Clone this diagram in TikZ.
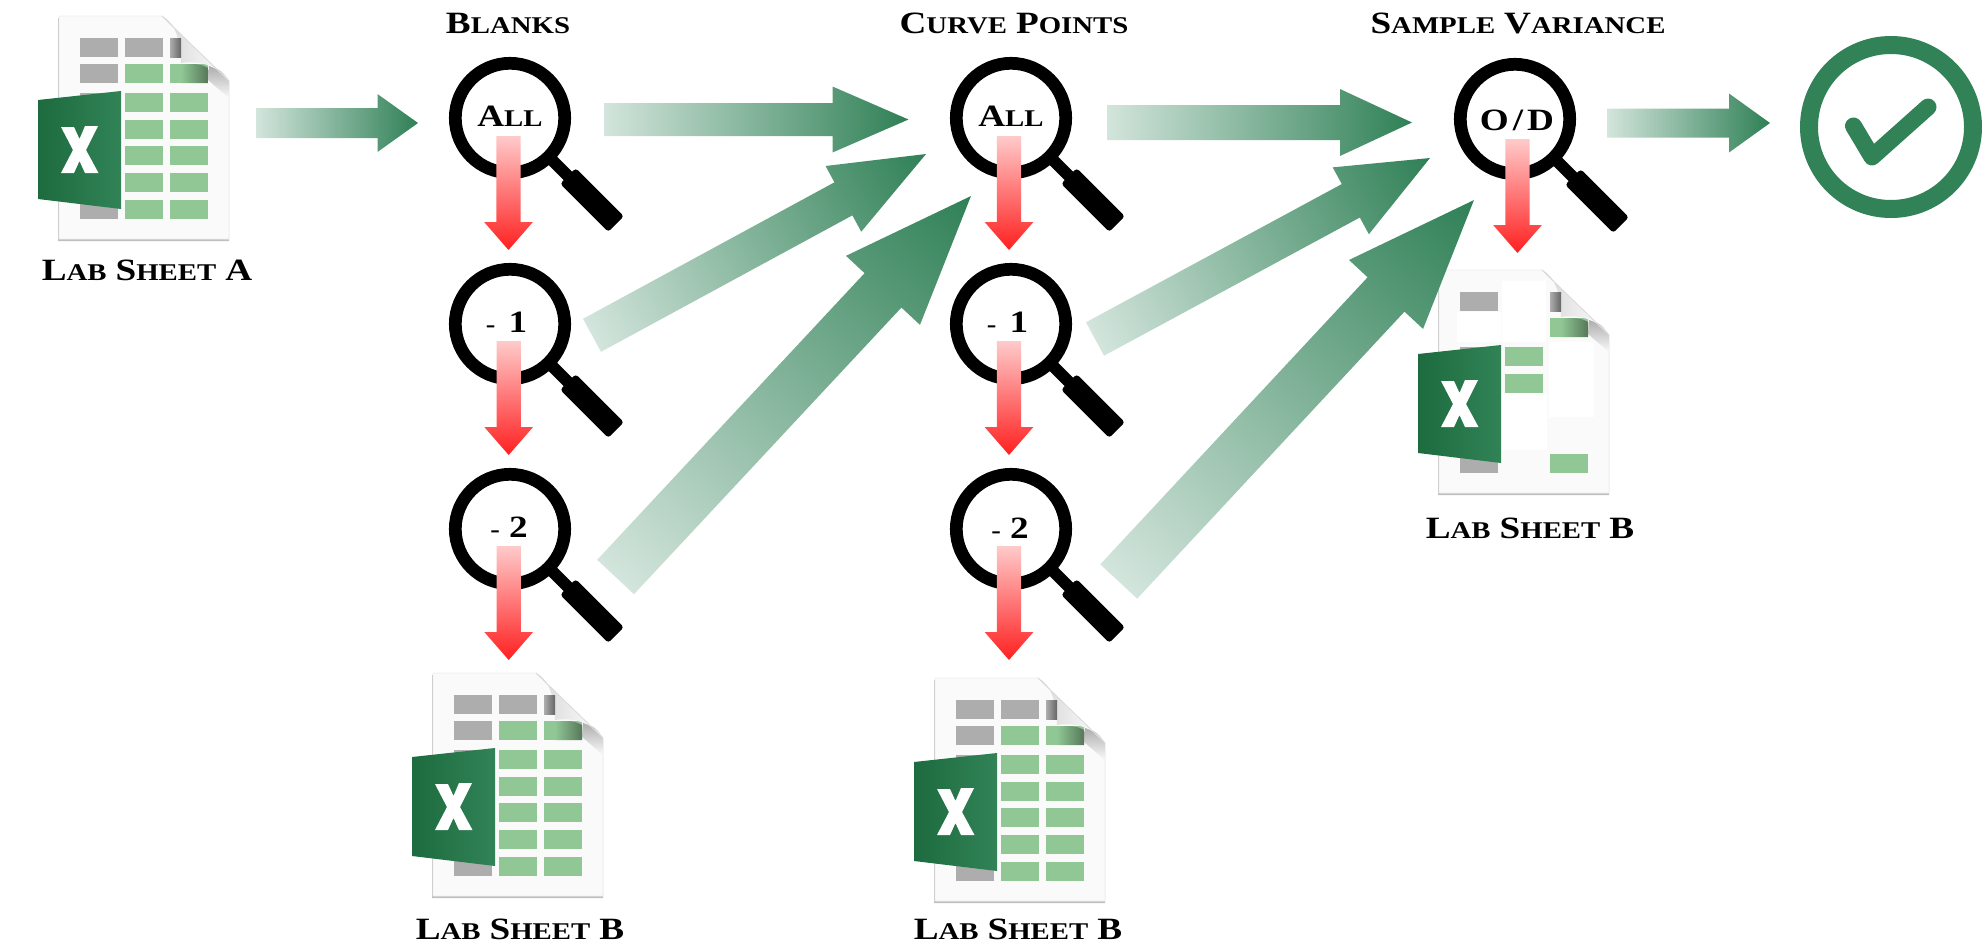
\documentclass[tikz,border=0pt]{standalone}
\usepackage{fontspec}
\usetikzlibrary{calc}
\newfontfamily\cop[FakeStretch=1.2]{Liberation Serif}
\newcommand\capL[1]{{\fontsize{31}{31}\selectfont #1}}
\newcommand\capS[1]{{\fontsize{24}{24}\selectfont #1}}
\newcommand\wsp{\hspace{9pt}}
\definecolor{gL}{HTML}{D3E5DC}
\definecolor{gM}{HTML}{A6C3B3}
\definecolor{gR}{HTML}{2F8056}
\definecolor{tileG}{HTML}{90C795}
\definecolor{tileK}{HTML}{ADADAD}
\definecolor{okG}{HTML}{318357}
\definecolor{panelL}{HTML}{1D6B3E}
\definecolor{redT}{HTML}{FFCACA}
\definecolor{redM}{HTML}{FFA4A4}
\definecolor{redB}{HTML}{FF2020}
\tikzset{
  gflow/.style={left color=gL,middle color=gM,right color=gR},
  rflow/.style={left color=redT,middle color=redM,right color=redB},
  lbl/.style={font=\cop\bfseries,inner sep=0pt,anchor=base,text=black},
  tileg/.style={fill=tileG},
  tilek/.style={fill=tileK},
  patch/.style={fill=white},
}
% arrow in canvas frame, gradient along its own axis
\newcommand\flow[6]{%
  \pgfpointanchor{#2}{center}\pgfgetlastxy\ax\ay
  \pgfpointanchor{#3}{center}\pgfgetlastxy\bx\by
  \pgfmathsetmacro\ang{atan2(\by-\ay,\bx-\ax)}%
  \pgfmathsetmacro\len{veclen(\bx-\ax,\by-\ay)}%
  \pgfmathsetmacro\neck{\len-#6}%
  \begin{scope}[transform canvas={shift={(\ax,\ay)},rotate=\ang}]
    \shade[#1] (0pt,-#4pt) -- (\neck pt,-#4pt) -- (\neck pt,-#5pt) -- (\len pt,0pt)
      -- (\neck pt,#5pt) -- (\neck pt,#4pt) -- (0pt,#4pt) -- cycle;
  \end{scope}%
}
\newcommand\iconback[1]{%
  \fill[black!25] ($(#1)+(-0.8,2)$) -- ++(104,0) -- ++(67,65) -- ++(0,158) -- ++(-171,0) -- cycle;
  \fill[black!2,draw=black!7,line width=0.8pt] (#1) -- ++(103,0) -- ++(67,65) -- ++(0,158) -- ++(-170,0) -- cycle;
}
\newcommand\iconfront[1]{%
  \begin{scope}[shift={(#1)}]
    \shade[top color=black!32,bottom color=black!2] (150,50) .. controls (160,52) and (166,58) .. (170,65) -- (170,82) -- (149,64) -- cycle;
    \shade[left color=black!16,right color=white] (103,0) .. controls (116,6) and (122,25) .. (122,47)
      .. controls (140,44) and (160,50) .. (170,65) -- cycle;
    \draw[black!14,line width=0.8pt] (103,0) -- (170,65);
    \shade[left color=tileG,right color=tileG!60!black] (122,49) .. controls (135,47) and (142,48) .. (149,52) -- (149,67) -- (122,67) -- cycle;
    \shade[left color=tileK,right color=black!60] (111,22) rectangle (122,41);
    \shade[left color=panelL,right color=okG] (-21,84) -- (62,75) -- (62,193) -- (-21,183) -- cycle;
    \fill[white] (2,111) -- (15,111) -- (20.5,123) -- (26,110) -- (39,110) -- (27,134) -- (39.5,157)
      -- (26,157) -- (20.5,145) -- (15,157) -- (2,157) -- (14,134) -- cycle;
  \end{scope}%
}
\newcommand\tile[4]{\fill[#1] ($(#2)+(#3)$) rectangle ++(#4);}
\newcommand\fullicon[1]{%
  \iconback{#1}
  \tile{tilek}{#1}{21,22}{38,19}
  \tile{tilek}{#1}{66,22}{38,19}
  \tile{tilek}{#1}{111,22}{11,19}
  \tile{tilek}{#1}{21,48}{38,19}
  \tile{tileg}{#1}{66,48}{38,19}
  \tile{tileg}{#1}{111,48}{38,19}
  \tile{tilek}{#1}{21,77}{38,19}
  \foreach \ry in {77,104,130,157,184}{%
    \tile{tileg}{#1}{66,\ry}{38,19}
    \tile{tileg}{#1}{111,\ry}{38,19}}
  \tile{tilek}{#1}{21,184}{38,19}
  \iconfront{#1}
}
\newcommand\particon[1]{%
  \iconback{#1}
  \tile{patch}{#1}{18,42}{44,30}
  \tile{patch}{#1}{63,11}{44,61}
  \tile{patch}{#1}{110,72}{45,75}
  \tile{patch}{#1}{63,123}{45,57}
  \tile{tilek}{#1}{21,22}{38,19}
  \tile{tilek}{#1}{111,22}{11,19}
  \tile{tileg}{#1}{111,48}{38,19}
  \tile{tilek}{#1}{21,77}{38,19}
  \tile{tileg}{#1}{66,77}{38,19}
  \tile{tileg}{#1}{66,104}{38,19}
  \tile{tilek}{#1}{21,184}{38,19}
  \tile{tileg}{#1}{111,184}{38,19}
  \iconfront{#1}
}
\newcommand\lens[1]{%
  \draw[line width=12.7pt] (#1) circle[radius=54.7];
  \begin{scope}[shift={(#1)},rotate=-45]
    \fill (54,-6) rectangle (85,6);
    \fill[rounded corners=3pt] (82,-11) rectangle (150,11);
  \end{scope}%
}
\begin{document}
\begin{tikzpicture}[x=1pt,y=-1pt]
\useasboundingbox (0,0) rectangle (1982,948);
% icon anchors
\coordinate (iconA) at (59,16);
\coordinate (iconB1) at (433,673);
\coordinate (iconB2) at (935,678);
\coordinate (iconB3) at (1439,270);
\fullicon{iconA}
\fullicon{iconB1}
\fullicon{iconB2}
\particon{iconB3}
% lens anchors
\coordinate (L11) at (510,118);
\coordinate (L12) at (510,324);
\coordinate (L13) at (510,529);
\coordinate (L21) at (1011,118);
\coordinate (L22) at (1011,324);
\coordinate (L23) at (1011,529);
\coordinate (L31) at (1515,119);
\foreach \c in {L11,L12,L13,L21,L22,L23,L31}{\lens{\c}}
% titles
\node[lbl] (tA) at (147,280) {\capL{L}\capS{AB}\wsp\capL{S}\capS{HEET}\wsp\capL{A}};
\node[lbl] (tB) at (508,33) {\capL{B}\capS{LANKS}};
\node[lbl] (tC) at (1014,33) {\capL{C}\capS{URVE}\wsp\capL{P}\capS{OINTS}};
\node[lbl] (tS) at (1518,33) {\capL{S}\capS{AMPLE}\wsp\capL{V}\capS{ARIANCE}};
\node[lbl] (tB1) at (520,939) {\capL{L}\capS{AB}\wsp\capL{S}\capS{HEET}\wsp\capL{B}};
\node[lbl] (tB2) at (1018,939) {\capL{L}\capS{AB}\wsp\capL{S}\capS{HEET}\wsp\capL{B}};
\node[lbl] (tB3) at (1530,538) {\capL{L}\capS{AB}\wsp\capL{S}\capS{HEET}\wsp\capL{B}};
% lens texts
\node[lbl] (n11) at (510,126) {\capL{A}\capS{LL}};
\node[lbl] (n12) at (506.5,332) {\capS{-}\hspace{13pt}\capL{1}};
\node[lbl] (n13) at (509,537) {\capS{-}\hspace{9pt}\capL{2}};
\node[lbl] (n21) at (1011,126) {\capL{A}\capS{LL}};
\node[lbl] (n22) at (1007.5,332) {\capS{-}\hspace{13pt}\capL{1}};
\node[lbl] (n23) at (1010,538) {\capS{-}\hspace{9pt}\capL{2}};
\node[lbl] (n31) at (1517,130) {\capL{O\hspace{4pt}/\hspace{4pt}D}};
% check
\coordinate (ok) at (1891,127);
\draw[okG,line width=18pt] (ok) circle[radius=82];
\coordinate (ck1) at (1853.5,126);
\coordinate (ck2) at (1872,157);
\coordinate (ck3) at (1928,107);
\draw[okG,line width=17pt,line cap=round,line join=round] (ck1) -- (ck2) -- (ck3);
% green arrow end points
\coordinate (a1s) at (256,123); \coordinate (a1e) at (418,123);
\coordinate (a2s) at (604,119.5); \coordinate (a2e) at (908.5,119.5);
\coordinate (a3s) at (1107,122.5); \coordinate (a3e) at (1412,122.5);
\coordinate (a4s) at (1607,123); \coordinate (a4e) at (1770,123);
\coordinate (d1s) at (592,335.3); \coordinate (d1e) at (926,154);
\coordinate (d2s) at (615.6,577); \coordinate (d2e) at (971,196);
\coordinate (d3s) at (1095,339); \coordinate (d3e) at (1430,158);
\coordinate (d4s) at (1118.7,581.5); \coordinate (d4e) at (1474,200);
\flow{gflow}{a1s}{a1e}{15}{29}{40.5}
\flow{gflow}{a2s}{a2e}{16.5}{33}{76}
\flow{gflow}{a3s}{a3e}{17.5}{33.5}{72}
\flow{gflow}{a4s}{a4e}{14.5}{29.5}{41}
\flow{gflow}{d1s}{d1e}{18.8}{37.4}{94}
\flow{gflow}{d2s}{d2e}{25.2}{50.6}{129}
\flow{gflow}{d3s}{d3e}{19}{38}{90}
\flow{gflow}{d4s}{d4e}{25.2}{50.6}{129}
% red arrow end points
\coordinate (r11s) at (508.5,136); \coordinate (r11e) at (508.5,250);
\coordinate (r12s) at (508.7,341); \coordinate (r12e) at (508.7,455);
\coordinate (r13s) at (508.7,546); \coordinate (r13e) at (508.7,660);
\coordinate (r21s) at (1009,136); \coordinate (r21e) at (1009,250);
\coordinate (r22s) at (1009,341); \coordinate (r22e) at (1009,455);
\coordinate (r23s) at (1009,546); \coordinate (r23e) at (1009,660);
\coordinate (r31s) at (1517.5,139); \coordinate (r31e) at (1517.5,253);
\foreach \s/\e in {r11s/r11e,r12s/r12e,r13s/r13e,r21s/r21e,r22s/r22e,r23s/r23e,r31s/r31e}{%
  \flow{rflow}{\s}{\e}{12.2}{24.4}{28}}
\end{tikzpicture}
\end{document}
